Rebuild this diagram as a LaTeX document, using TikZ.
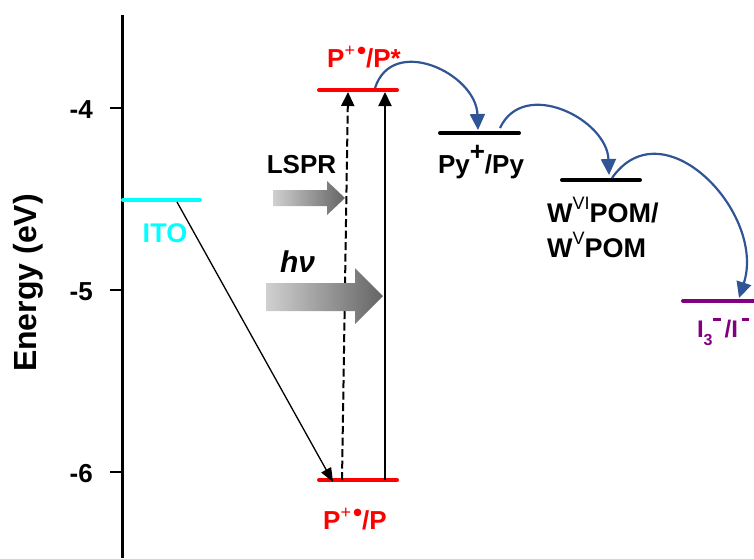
\documentclass[tikz,border=0pt]{standalone}
\usepackage{fontspec}
\setmainfont{Liberation Sans}
\usetikzlibrary{arrows.meta}
\definecolor{ptred}{RGB}{255,0,0}
\definecolor{itocyan}{RGB}{0,255,255}
\definecolor{iviolet}{RGB}{128,0,128}
\definecolor{arrblue}{RGB}{47,85,151}
\definecolor{glight}{RGB}{208,208,208}
\definecolor{gdark}{RGB}{100,100,100}
\newcommand{\radsup}{\raisebox{0.42em}{\fontsize{18}{18}\selectfont\mdseries +}\hspace{2pt}\raisebox{0.3em}{•}}
\begin{document}
\begin{tikzpicture}[x=1pt,y=1pt,
  level/.style={line width=4pt, line cap=round},
  lbl/.style={font=\bfseries\fontsize{26}{30}\selectfont, inner sep=0pt, anchor=base},
  ticklbl/.style={font=\bfseries\fontsize{26}{30}\selectfont, inner sep=0pt, anchor=base east},
  vert/.style={line width=2pt, -{Triangle[width=13pt,length=14pt]}},
  eflow/.style={arrblue, line width=2.2pt, -{Triangle[width=15pt,length=16pt]}},
]
\useasboundingbox (0,0) rectangle (754,-558);
% axis
\coordinate (axtop) at (122.5,-15);
\coordinate (axbot) at (122.5,-558);
\draw[line width=3.5pt] (axtop) -- (axbot);
\foreach \v/\y in {4/108,5/290,6/472}{
  \coordinate (tk\v) at (122.5,-\y);
  \draw[line width=2pt] (tk\v) -- ++(-12.5,0);
  \node[ticklbl] (tl\v) at (93,-\y-10) {-\v};
}
\node[rotate=90, font=\bfseries\fontsize{32}{36}\selectfont, inner sep=0pt] (elab) at (28,-283) {Energy (eV)};
% levels
\coordinate (ito1) at (123,-200); \coordinate (ito2) at (200,-200);
\coordinate (ps1) at (319,-90);  \coordinate (ps2) at (397,-90);
\coordinate (pg1) at (319,-480); \coordinate (pg2) at (397,-480);
\coordinate (py1) at (440,-133); \coordinate (py2) at (519,-133);
\coordinate (w1) at (562,-180);  \coordinate (w2) at (640,-180);
\coordinate (i1) at (683,-301);  \coordinate (i2) at (756,-301);
\draw[level, itocyan] (ito1) -- (ito2);
\draw[level, ptred] (ps1) -- (ps2);
\draw[level, ptred] (pg1) -- (pg2);
\draw[level, black] (py1) -- (py2);
\draw[level, black] (w1) -- (w2);
\draw[level, iviolet] (i1) -- (i2);
% labels
\node[lbl, itocyan, font=\bfseries\fontsize{27}{30}\selectfont] (itoL) at (165,-242) {ITO};
\node[lbl, ptred] (psL) at (364,-67) {P\radsup/P*};
\node[lbl, ptred] (pgL) at (355,-529) {P\radsup/P};
\node[lbl] (pyL) at (481,-173) {Py\raisebox{0.5em}{+}/Py};
\node[lbl, anchor=base west, font=\bfseries\fontsize{27}{30}\selectfont] (wL1) at (547,-222) {W\raisebox{0.45em}{\mdseries\fontsize{18}{18}\selectfont VI}POM/};
\node[lbl, anchor=base west, font=\bfseries\fontsize{27}{30}\selectfont] (wL2) at (547,-257) {W\raisebox{0.45em}{\mdseries\fontsize{18}{18}\selectfont V}POM};
\node[lbl, iviolet, font=\bfseries\fontsize{24}{28}\selectfont] (iL) at (723,-337)
  {I\raisebox{-8pt}{\fontsize{16}{16}\selectfont 3}\raisebox{16pt}{\rule{8pt}{2.6pt}}\,/I\,\raisebox{16pt}{\rule{7pt}{2.6pt}}};
% vertical transitions
\coordinate (dsb) at (342,-480); \coordinate (dst) at (348,-92);
\coordinate (sob) at (385,-480); \coordinate (sot) at (385,-92);
\draw[vert, dash pattern=on 8pt off 3.5pt] (dsb) -- (dst);
\draw[vert] (sob) -- (sot);
% ITO to ground
\coordinate (itoS) at (177,-202);
\coordinate (itoE) at (333,-482);
\draw[line width=1.3pt, -{Triangle[width=11pt,length=14pt]}] (itoS) -- (itoE);
% electron flow
\coordinate (f1s) at (375,-88);  \coordinate (f1e) at (478,-130);
\coordinate (f2s) at (500,-128); \coordinate (f2e) at (609,-175);
\coordinate (f3s) at (612,-178); \coordinate (f3e) at (739,-298);
\draw[eflow] (f1s) to[out=72, in=92, looseness=1.3] (f1e);
\draw[eflow] (f2s) to[out=65, in=92, looseness=1.2] (f2e);
\draw[eflow] (f3s) to[out=55, in=72, looseness=1.3] (f3e);
% photon arrows
\shade[left color=glight, right color=gdark]
  (273,-190) -- (327,-190) -- (327,-181) -- (345,-198) -- (327,-215) -- (327,-206) -- (273,-206) -- cycle;
\shade[left color=glight, right color=gdark]
  (266,-283) -- (355,-283) -- (355,-268) -- (383,-296) -- (355,-324) -- (355,-311) -- (266,-311) -- cycle;
\node[lbl] (lspr) at (301.5,-173) {LSPR};
\node[lbl, font=\bfseries\itshape\fontsize{30}{32}\selectfont] (hv) at (297.5,-272) {hν};
\end{tikzpicture}
\end{document}
